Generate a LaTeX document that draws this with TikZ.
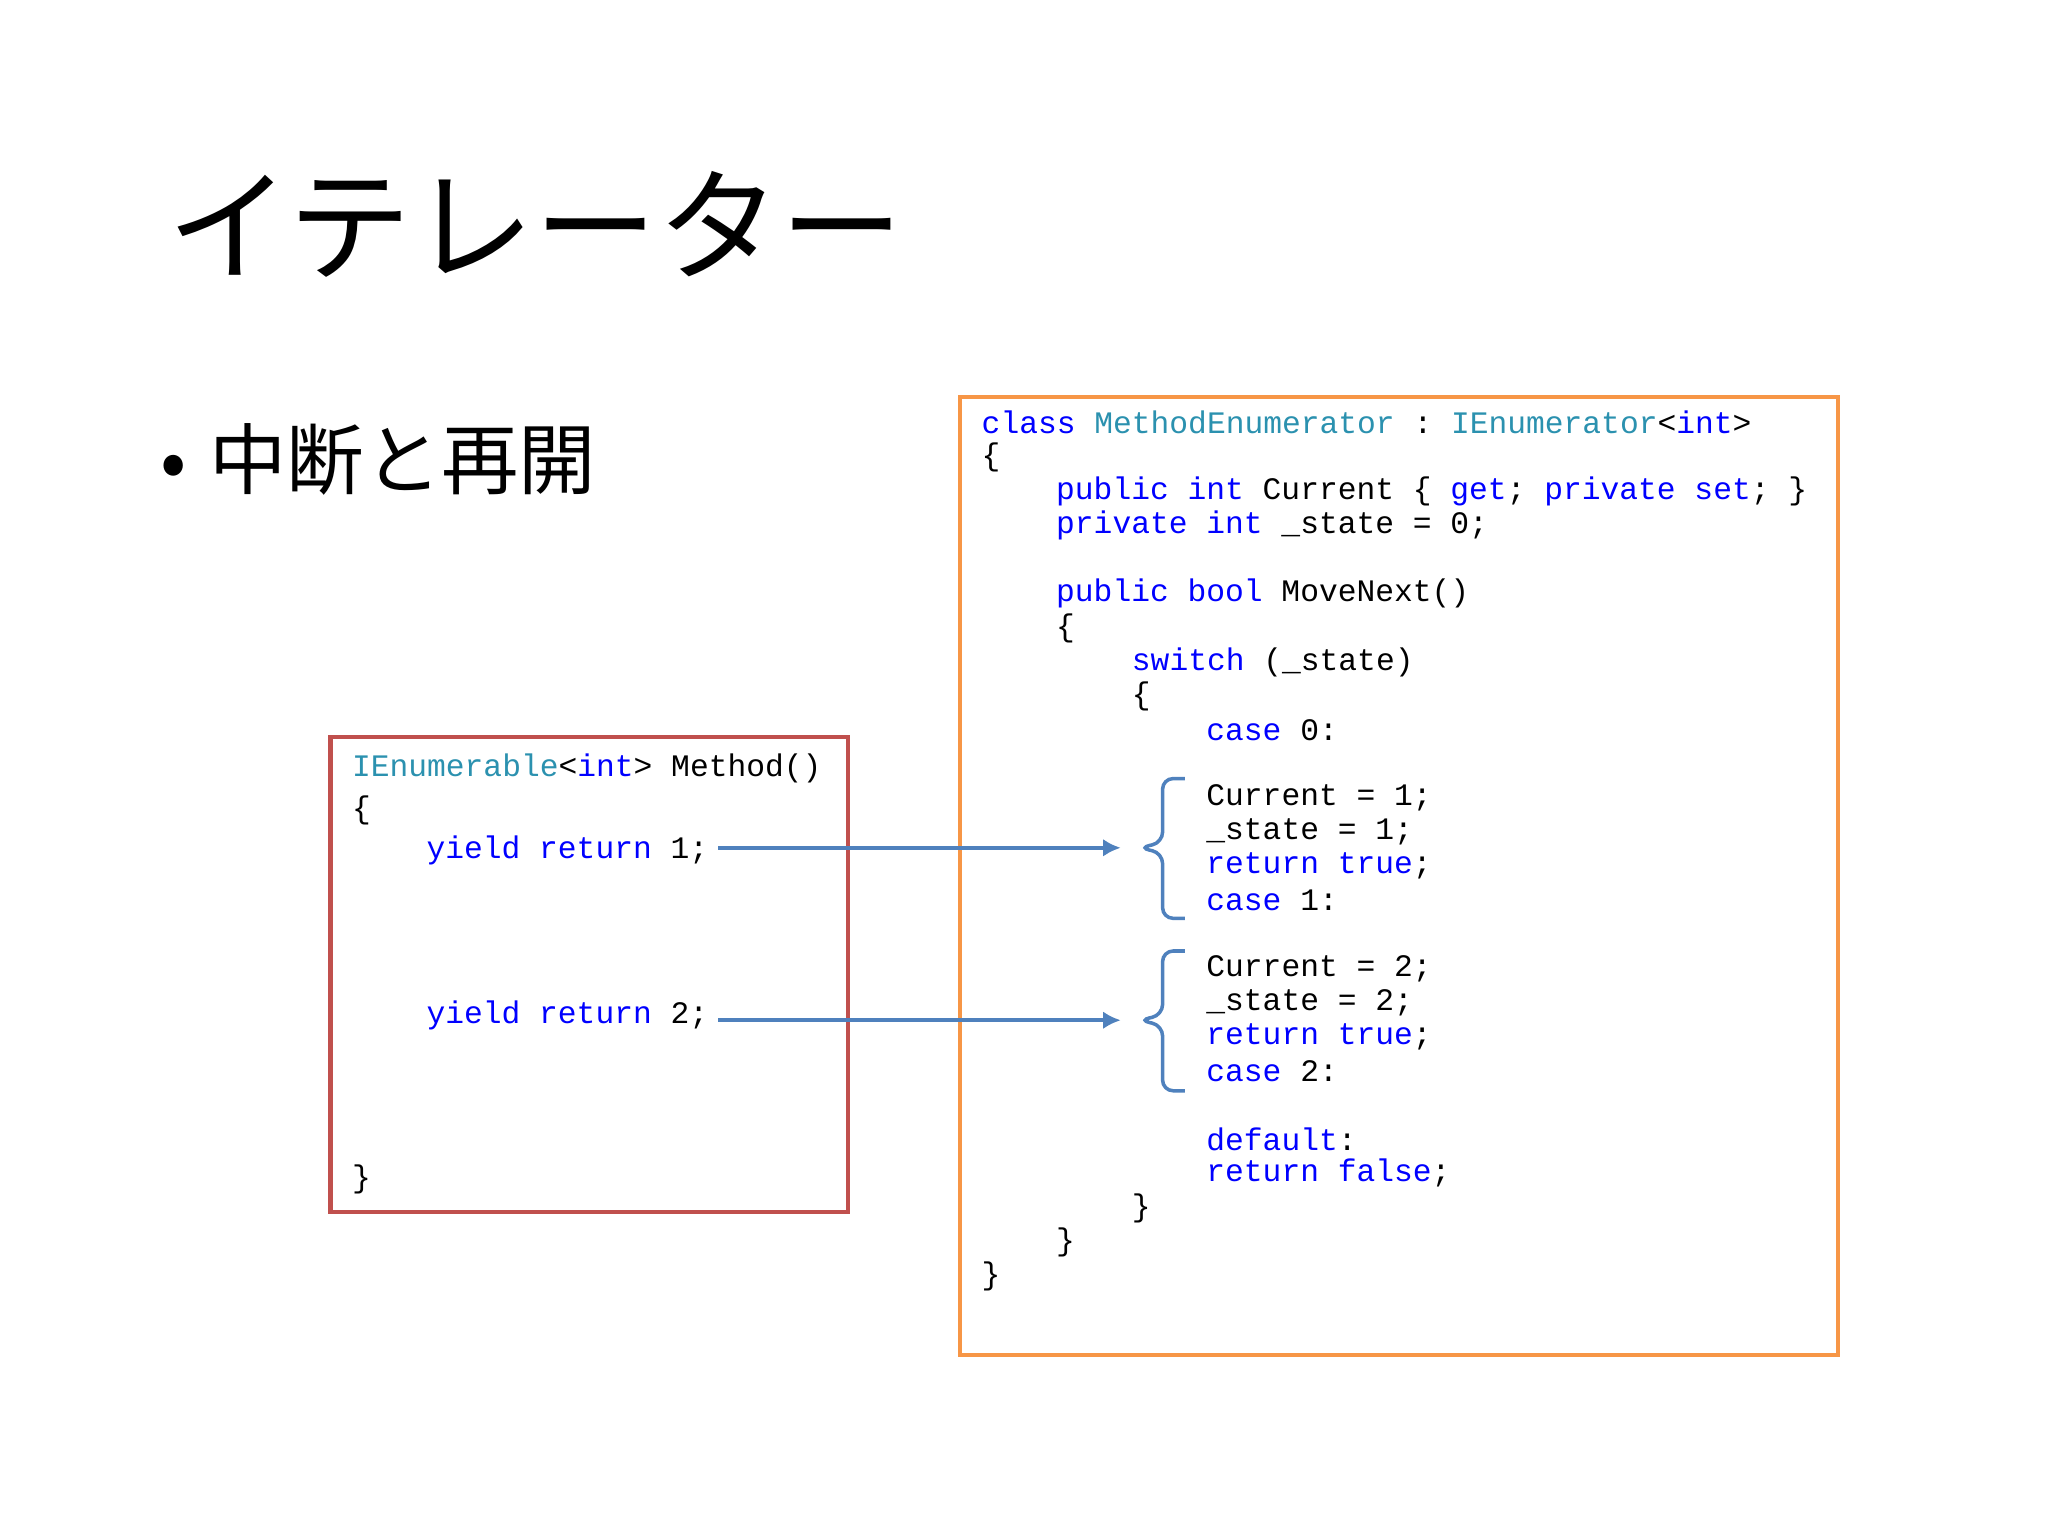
\documentclass[tikz,border=0pt]{standalone}
\usepackage{fontspec}
\setmonofont{Liberation Mono}
\newfontfamily\jp{Noto Sans CJK JP}
\definecolor{kw}{RGB}{0,0,255}
\definecolor{ty}{RGB}{43,145,175}
\definecolor{rbox}{RGB}{192,80,77}
\definecolor{obox}{RGB}{247,150,70}
\definecolor{arr}{RGB}{79,129,189}
\newcommand{\K}[1]{\textcolor{kw}{#1}}
\newcommand{\T}[1]{\textcolor{ty}{#1}}
\tikzset{code/.style={anchor=west,inner sep=0pt,font=\ttfamily\fontsize{8.9}{10}\selectfont},
conn/.style={draw=arr,line width=1pt,-{Latex[length=5pt,width=5pt]}},
brc/.style={draw=arr,line width=1pt}}
\usetikzlibrary{arrows.meta}
\begin{document}
\begin{tikzpicture}[x=0.013063cm,y=-0.013063cm]
\useasboundingbox (0,0) rectangle (1567.8,1175.8);
\node[anchor=west,inner sep=0pt,font=\jp\fontsize{35}{40}\selectfont] (title) at (128,172) {イテレーター};
\node[anchor=west,inner sep=0pt,font=\jp\fontsize{22}{26}\selectfont] (bul) at (122,352) {•\hspace{0.3em}中断と再開};
\draw[obox,line width=1.2pt] (735,304) rectangle (1407,1037);
\draw[rbox,line width=1.2pt] (253,564) rectangle (649,928);
% right code
\node[code] (r1) at (751,323) {\K{class} \T{MethodEnumerator} : \T{IEnumerator}<\K{int}>};
\node[code] (r2) at (751,350) {\{};
\node[code] (r3) at (808,376) {\K{public} \K{int} Current \{ \K{get}; \K{private} \K{set}; \}};
\node[code] (r4) at (808,402) {\K{private} \K{int} \_state = 0;};
\node[code] (r5) at (808,454) {\K{public} \K{bool} MoveNext()};
\node[code] (r6) at (808,481) {\{};
\node[code] (r7) at (866,507) {\K{switch} (\_state)};
\node[code] (r8) at (866,533) {\{};
\node[code] (r9) at (923,559) {\K{case} 0:};
\node[code] (r10) at (923,611) {Current = 1;};
\node[code] (r11) at (923,637) {\_state = 1;};
\node[code] (r12) at (923,663) {\K{return} \K{true};};
\node[code] (r13) at (923,689) {\K{case} 1:};
\node[code] (r14) at (923,742) {Current = 2;};
\node[code] (r15) at (923,768) {\_state = 2;};
\node[code] (r16) at (923,794) {\K{return} \K{true};};
\node[code] (r17) at (923,820) {\K{case} 2:};
\node[code] (r18) at (923,872) {\K{default}:};
\node[code] (r19) at (923,898) {\K{return} \K{false};};
\node[code] (r20) at (866,925) {\}};
\node[code] (r21) at (808,951) {\}};
\node[code] (r22) at (751,977) {\}};
% left code
\node[code] (l1) at (269,588) {\T{IEnumerable}<\K{int}> Method()};
\node[code] (l2) at (269,620) {\{};
\node[code] (l3) at (326,651) {\K{yield} \K{return} 1;};
\node[code] (l4) at (326,777) {\K{yield} \K{return} 2;};
\node[code] (l5) at (269,903) {\}};
% braces
\coordinate (b1) at (872,649);
\coordinate (b2) at (872,781);
\draw[brc,rounded corners=3pt] (907,596) -- (890,596) -- (890,645) -- (b1) -- (890,653) -- (890,703) -- (907,703);
\draw[brc,rounded corners=3pt] (907,728) -- (890,728) -- (890,777) -- (b2) -- (890,785) -- (890,835) -- (907,835);
\coordinate (a1) at (550,649);
\coordinate (a2) at (550,781);
\coordinate (e1) at (858,649);
\coordinate (e2) at (858,781);
\draw[conn] (a1) -- (e1);
\draw[conn] (a2) -- (e2);
\end{tikzpicture}
\end{document}
